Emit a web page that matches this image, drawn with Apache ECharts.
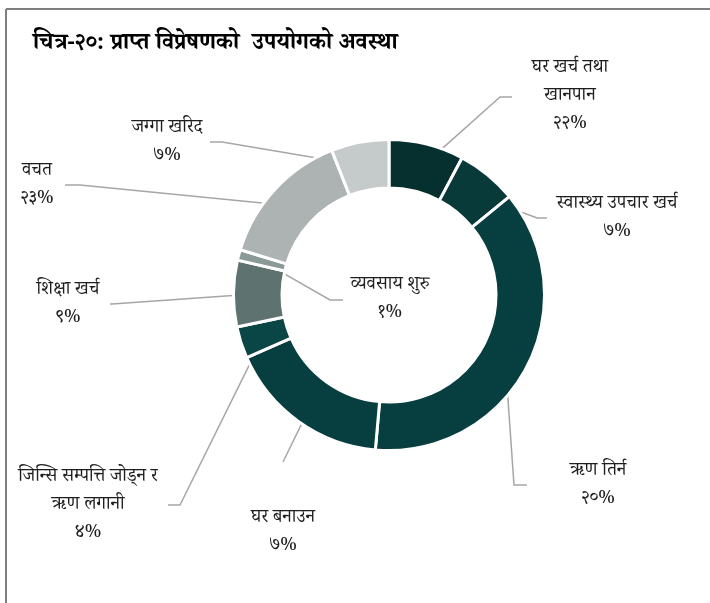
<!DOCTYPE html>
<html>
<head>
<meta charset="utf-8">
<script src="https://cdn.jsdelivr.net/npm/echarts@6/dist/echarts.min.js"></script>
<style>
html,body{margin:0;padding:0;background:#fff;}
#chart{width:710px;height:603px;}
</style>
</head>
<body>
<div id="chart"></div>
<script>
// Category names (label text as printed on the chart)
const categories = [
  'घर खर्च तथा\nखानपान',
  'स्वास्थ्य उपचार खर्च',
  'ऋण तिर्न',
  'घर बनाउन',
  'जिन्सि सम्पत्ति जोड्न र\nऋण लगानी',
  'शिक्षा खर्च',
  'व्यवसाय शुरु',
  'वचत',
  'जग्गा खरिद'
];
// Percentage text printed in each label
const labelPercents = ['२२%', '७%', '२०%', '७%', '४%', '९%', '१%', '२३%', '७%'];
const sliceValues = [7.8, 6.3, 37.3, 17.0, 3.3, 6.9, 1.1, 14.3, 6.0];
// Slice colours
const sliceColors = ['#062f2f', '#083a3a', '#073e40', '#073e40', '#0a4646', '#5e7270', '#8a9a98', '#adb2b2', '#c5cacb'];

// Layout (not data)
const CX = 389, CY = 295, R_IN = 107, R_OUT = 155.5;
const labelCenters = [[570,98],[617,220],[598,487],[283,534],[88,507],[68,306],[390,301],[37,187],[167,144]];
const lineEnds = [
  [[500,97],[512,97]],
  [[537,218],[547,218]],
  [[514,485],[527,485]],
  [[283,462],[283,462]],
  [[180,505],[168,505]],
  [[112,304],[110,304]],
  [[330,300],[343,300]],
  [[80,185],[65,185]],
  [[222,142],[210,142]]
];

const total = sliceValues.reduce((a,b)=>a+b,0);
const midAngles = [];
{ let acc = 0; for (const v of sliceValues) { midAngles.push((acc + v/2)/total*2*Math.PI); acc += v; } }
const midR = (R_IN + R_OUT) / 2;

const FONT = "'Noto Serif Devanagari','Noto Sans Devanagari','Lohit Devanagari','Mangal','Kokila',serif";

const chart = echarts.init(document.getElementById('chart'), null, {renderer:'canvas'});
chart.setOption({
  backgroundColor: '#ffffff',
  animation: false,
  graphic: [
    {type:'line', shape:{x1:6,y1:9,x2:710,y2:9}, style:{stroke:'#7f7f7f', lineWidth:2}, silent:true},
    {type:'line', shape:{x1:6,y1:9,x2:6,y2:603}, style:{stroke:'#7f7f7f', lineWidth:2}, silent:true},
    {type:'text', left:33, top:35, style:{text:'चित्र-२०: प्राप्त विप्रेषणको  उपयोगको अवस्था', font:"bold 23px " + FONT, fill:'#000'}}
  ],
  series: [{
    type: 'pie',
    center: [CX, CY],
    radius: [R_IN, R_OUT],
    startAngle: 90,
    clockwise: true,
    avoidLabelOverlap: false,
    data: sliceValues.map((v,i)=>({value:v, name:categories[i], itemStyle:{color:sliceColors[i]}})),
    itemStyle: {borderColor:'#ffffff', borderWidth:3},
    label: {
      show: true,
      position: 'outside',
      formatter: p => categories[p.dataIndex] + '\n' + labelPercents[p.dataIndex],
      fontFamily: FONT,
      fontSize: 18.5,
      lineHeight: 28,
      color: '#1e1e1e',
      align: 'center'
    },
    labelLine: {show:true, lineStyle:{color:'#a6a6a6', width:1.5}},
    labelLayout: function (params) {
      const i = params.dataIndex;
      const a = midAngles[i];
      const sx = CX + midR * Math.sin(a), sy = CY - midR * Math.cos(a);
      return {
        x: labelCenters[i][0],
        y: labelCenters[i][1],
        align: 'center',
        verticalAlign: 'middle',
        labelLinePoints: [[sx, sy], lineEnds[i][0], lineEnds[i][1]]
      };
    },
    emphasis: {disabled:true}
  }]
});
</script>
</body>
</html>
